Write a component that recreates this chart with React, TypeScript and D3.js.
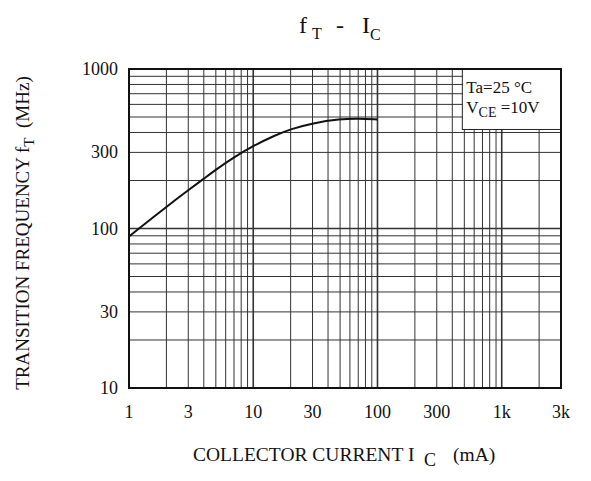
import React from 'react';
import * as d3 from 'd3';

// collector current (mA) vs transition frequency (MHz)
const currentMA = [1, 2, 3, 4, 5, 7, 10, 15, 20, 30, 50, 70, 100];
const ftMHz = [89, 137, 174, 205, 234, 280, 330, 384, 420, 458, 486, 489, 483];

const xTicks = [1, 3, 10, 30, 100, 300, 1000, 3000];
const xTickLabels = ['1', '3', '10', '30', '100', '300', '1k', '3k'];
const yTicks = [10, 30, 100, 300, 1000];
const yTickLabels = ['10', '30', '100', '300', '1000'];

const W = 591;
const H = 481;
const font = '"Liberation Serif", "Times New Roman", serif';

// every 1..9 multiple in each decade
function minorGrid(lo: number, hi: number) {
  const out: number[] = [];
  for (let d = lo; d < hi; d *= 10) {
    for (let k = 1; k <= 9; k++) {
      const v = d * k;
      if (v > lo && v < hi) out.push(v);
    }
  }
  return out;
}

export default function App() {
  const x = d3.scaleLog().domain([1, 3000]).range([129, 561]);
  const y = d3.scaleLog().domain([10, 1000]).range([388, 69]);

  const line = d3
    .line<number>()
    .x((_, i) => x(currentMA[i]))
    .y((d) => y(d))
    .curve(d3.curveBasis);

  const xGrid = minorGrid(1, 3000);
  const yGrid = minorGrid(10, 1000);
  const isDecade = (v: number) => Math.abs(Math.log10(v) - Math.round(Math.log10(v))) < 1e-9;

  const [x0, x1] = x.range();
  const [y0, y1] = y.range();

  // legend box: from the 500 mA line to the right edge, down to the 400 MHz line
  const boxLeft = x(500) - 2;
  const boxBottom = y(400) - 3;

  return (
    <svg width={W} height={H} style={{ position: 'absolute', left: 0, top: 0, background: '#fff' }} fontFamily={font}>
      <g>
        {xGrid.map((v) => (
          <line key={'gx' + v} x1={x(v)} x2={x(v)} y1={y1} y2={y0} stroke="#333" strokeWidth={isDecade(v) ? 1.6 : 1} />
        ))}
        {yGrid.map((v) => (
          <line key={'gy' + v} x1={x0} x2={x1} y1={y(v)} y2={y(v)} stroke="#333" strokeWidth={isDecade(v) ? 1.6 : 1} />
        ))}
      </g>

      <rect x={boxLeft} y={y1} width={x1 - boxLeft} height={boxBottom - y1} fill="#fff" stroke="#222" strokeWidth={1} />
      <text x={boxLeft + 4} y={93} fontSize={17} fill="#111">Ta=25 °C</text>
      <text x={boxLeft + 4} y={113} fontSize={17} fill="#111">
        V<tspan fontSize={14} dy={4}>CE</tspan>
        <tspan dy={-4}> =10V</tspan>
      </text>

      <path d={line(ftMHz) || ''} fill="none" stroke="#111" strokeWidth={2} />

      <rect x={x0} y={y1} width={x1 - x0} height={y0 - y1} fill="none" stroke="#111" strokeWidth={2} />

      {xTicks.map((v, i) => (
        <text key={'xt' + v} x={x(v)} y={418} fontSize={18} textAnchor="middle" fill="#111">
          {xTickLabels[i]}
        </text>
      ))}
      {yTicks.map((v, i) => (
        <text key={'yt' + v} x={118} y={y(v) + 6} fontSize={18} textAnchor="end" fill="#111">
          {yTickLabels[i]}
        </text>
      ))}

      {/* title */}
      <text x={299} y={33} fontSize={24} fill="#111">f</text>
      <text x={312} y={39} fontSize={16} fill="#111">T</text>
      <text x={336} y={33} fontSize={24} fill="#111">-</text>
      <text x={362} y={33} fontSize={24} fill="#111">I</text>
      <text x={370} y={40} fontSize={16} fill="#111">C</text>

      {/* axis titles */}
      <text transform="translate(29,233) rotate(-90)" fontSize={19} textAnchor="middle" fill="#111">
        TRANSITION FREQUENCY f<tspan dy={5} fontSize={15}>T</tspan>
        <tspan dy={-5}>{'\u00a0\u00a0(MHz)'}</tspan>
      </text>
      <text x={193} y={461} fontSize={19.5} fill="#111">
        COLLECTOR CURRENT I
      </text>
      <text x={424} y={466} fontSize={18} fill="#111">C</text>
      <text x={453} y={461} fontSize={19.5} fill="#111">(mA)</text>
    </svg>
  );
}
